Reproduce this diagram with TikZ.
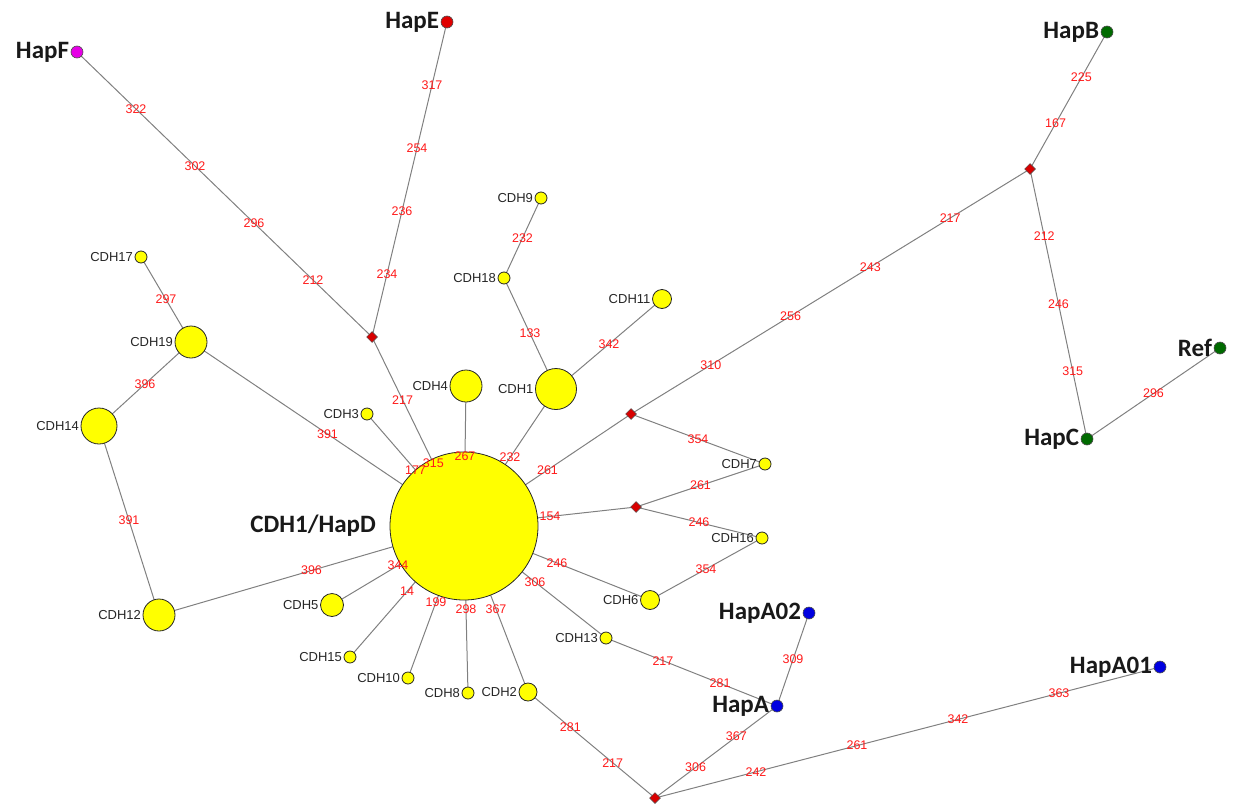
\documentclass[tikz,border=0pt]{standalone}
\usepackage{fontspec}
\setmainfont{Liberation Sans}
\newfontfamily\hapfont{Carlito}
\usetikzlibrary{shapes.geometric}
\pgfdeclarelayer{bg}
\pgfsetlayers{bg,main}
\definecolor{nodeyellow}{HTML}{FFFF00}
\definecolor{edgegray}{HTML}{808080}
\definecolor{numred}{HTML}{FF1A1A}
\definecolor{hapmag}{HTML}{E600E6}
\definecolor{hapred}{HTML}{E00000}
\definecolor{hapgreen}{HTML}{006A00}
\definecolor{hapblue}{HTML}{0000E0}
\definecolor{mvred}{HTML}{D80000}
\tikzset{
  hap/.style={circle, inner sep=0pt, minimum size=#1, fill=nodeyellow, draw=black!85, line width=0.8pt},
  smallhap/.style={hap=12pt},
  dot/.style={circle, inner sep=0pt, minimum size=12pt, fill=#1, draw=black!70, line width=0.6pt},
  mv/.style={diamond, inner sep=0pt, minimum size=11pt, fill=mvred, draw=black!70, line width=0.5pt},
  cdhlbl/.style={font=\fontsize{13}{15}\selectfont, text=black!85, inner sep=1.5pt},
  haplbl/.style={font=\hapfont\bfseries\fontsize{25}{28}\selectfont, text=black!90, inner sep=1.5pt},
  mut/.style={font=\fontsize{12.5}{14}\selectfont, text=numred, inner sep=0pt},
  link/.style={draw=edgegray, line width=1pt}
}
\newcommand\hlink[3]{%
  \begin{pgfonlayer}{bg}\path[link] (#1.center) -- (#2.center);\end{pgfonlayer}
  \path (#1.center) -- #3 (#2.center);}
\begin{document}
\begin{tikzpicture}[x=1pt,y=-1pt]
\useasboundingbox (0,0) rectangle (1236,803);
% haplotype dots
\node[dot=hapmag, label={[haplbl]left:HapF}] (hapF) at (77,52) {};
\node[dot=hapred, label={[haplbl]left:HapE}] (hapE) at (447,22) {};
\node[dot=hapgreen, label={[haplbl]left:HapB}] (hapB) at (1107,32) {};
\node[dot=hapgreen, label={[haplbl]left:Ref}] (ref) at (1220,348) {};
\node[dot=hapgreen, label={[haplbl]left:HapC}] (hapC) at (1087,439) {};
\node[dot=hapblue, label={[haplbl]left:HapA02}] (hapA02) at (809,613) {};
\node[dot=hapblue, label={[haplbl]left:HapA}] (hapA) at (777,706) {};
\node[dot=hapblue, label={[haplbl]left:HapA01}] (hapA01) at (1160,667) {};
% median vectors
\node[mv] (mv1) at (372,337) {};
\node[mv] (mvtr) at (1030,169) {};
\node[mv] (mv2) at (631,414) {};
\node[mv] (mv3) at (636,507) {};
\node[mv] (mvb) at (655,798) {};
% central haplotype
\node[hap=148pt, label={[haplbl, label distance=12pt]left:CDH1/HapD}] (cdhd) at (464,526) {};
% CDH haplotypes
\node[smallhap, label={[cdhlbl]left:CDH17}] (cdh17) at (141,257) {};
\node[hap=32pt, label={[cdhlbl]left:CDH19}] (cdh19) at (191,342) {};
\node[hap=36pt, label={[cdhlbl]left:CDH14}] (cdh14) at (99,426) {};
\node[hap=32pt, label={[cdhlbl]left:CDH12}] (cdh12) at (159,615) {};
\node[smallhap, label={[cdhlbl]left:CDH9}] (cdh9) at (541,198) {};
\node[smallhap, label={[cdhlbl]left:CDH18}] (cdh18) at (504,278) {};
\node[hap=19pt, label={[cdhlbl]left:CDH11}] (cdh11) at (662,299) {};
\node[hap=41pt, label={[cdhlbl]left:CDH1}] (cdh1) at (556,389) {};
\node[hap=32pt, label={[cdhlbl]left:CDH4}] (cdh4) at (466,386) {};
\node[smallhap, label={[cdhlbl]left:CDH3}] (cdh3) at (367,414) {};
\node[smallhap, label={[cdhlbl]left:CDH7}] (cdh7) at (765,464) {};
\node[smallhap, label={[cdhlbl]left:CDH16}] (cdh16) at (762,538) {};
\node[hap=19pt, label={[cdhlbl]left:CDH6}] (cdh6) at (650,600) {};
\node[smallhap, label={[cdhlbl]left:CDH13}] (cdh13) at (606,638) {};
\node[hap=23pt, label={[cdhlbl]left:CDH5}] (cdh5) at (332,605) {};
\node[smallhap, label={[cdhlbl]left:CDH15}] (cdh15) at (350,657) {};
\node[smallhap, label={[cdhlbl]left:CDH10}] (cdh10) at (408,678) {};
\node[smallhap, label={[cdhlbl]left:CDH8}] (cdh8) at (468,693) {};
\node[hap=18pt, label={[cdhlbl]left:CDH2}] (cdh2) at (528,692) {};
% connectors
\hlink{hapF}{mv1}{node[mut,pos=.2]{322} node[mut,pos=.4]{302} node[mut,pos=.6]{296} node[mut,pos=.8]{212}}
\hlink{hapE}{mv1}{node[mut,pos=.2]{317} node[mut,pos=.4]{254} node[mut,pos=.6]{236} node[mut,pos=.8]{234}}
\hlink{mv1}{cdhd}{node[mut,pos=.333]{217} node[mut,pos=.667]{315}}
\hlink{cdh17}{cdh19}{node[mut,pos=.5]{297}}
\hlink{cdh19}{cdh14}{node[mut,pos=.5]{396}}
\hlink{cdh14}{cdh12}{node[mut,pos=.5]{391}}
\hlink{cdh19}{cdhd}{node[mut,pos=.5]{391}}
\hlink{cdh12}{cdhd}{node[mut,pos=.5]{396}}
\hlink{cdh3}{cdhd}{node[mut,pos=.5]{177}}
\hlink{cdh4}{cdhd}{node[mut,pos=.5]{267}}
\hlink{cdh1}{cdhd}{node[mut,pos=.5]{232}}
\hlink{cdh1}{cdh18}{node[mut,pos=.5]{133}}
\hlink{cdh18}{cdh9}{node[mut,pos=.5]{232}}
\hlink{cdh1}{cdh11}{node[mut,pos=.5]{342}}
\hlink{cdhd}{mv2}{node[mut,pos=.5]{261}}
\hlink{mv2}{mvtr}{node[mut,pos=.2]{310} node[mut,pos=.4]{256} node[mut,pos=.6]{243} node[mut,pos=.8]{217}}
\hlink{mvtr}{hapB}{node[mut,pos=.333]{167} node[mut,pos=.667]{225}}
\hlink{mvtr}{hapC}{node[mut,pos=.25]{212} node[mut,pos=.5]{246} node[mut,pos=.75]{315}}
\hlink{hapC}{ref}{node[mut,pos=.5]{296}}
\hlink{mv2}{cdh7}{node[mut,pos=.5]{354}}
\hlink{cdhd}{mv3}{node[mut,pos=.5]{154}}
\hlink{mv3}{cdh7}{node[mut,pos=.5]{261}}
\hlink{mv3}{cdh16}{node[mut,pos=.5]{246}}
\hlink{cdh16}{cdh6}{node[mut,pos=.5]{354}}
\hlink{cdhd}{cdh6}{node[mut,pos=.5]{246}}
\hlink{cdhd}{cdh13}{node[mut,pos=.5]{306}}
\hlink{cdh13}{hapA}{node[mut,pos=.333]{217} node[mut,pos=.667]{281}}
\hlink{hapA}{hapA02}{node[mut,pos=.5]{309}}
\hlink{hapA}{mvb}{node[mut,pos=.333]{367} node[mut,pos=.667]{306}}
\hlink{mvb}{hapA01}{node[mut,pos=.2]{242} node[mut,pos=.4]{261} node[mut,pos=.6]{342} node[mut,pos=.8]{363}}
\hlink{cdh2}{mvb}{node[mut,pos=.333]{281} node[mut,pos=.667]{217}}
\hlink{cdhd}{cdh2}{node[mut,pos=.5]{367}}
\hlink{cdhd}{cdh8}{node[mut,pos=.5]{298}}
\hlink{cdhd}{cdh10}{node[mut,pos=.5]{199}}
\hlink{cdhd}{cdh15}{node[mut,pos=.5]{14}}
\hlink{cdhd}{cdh5}{node[mut,pos=.5]{344}}
\end{tikzpicture}
\end{document}
